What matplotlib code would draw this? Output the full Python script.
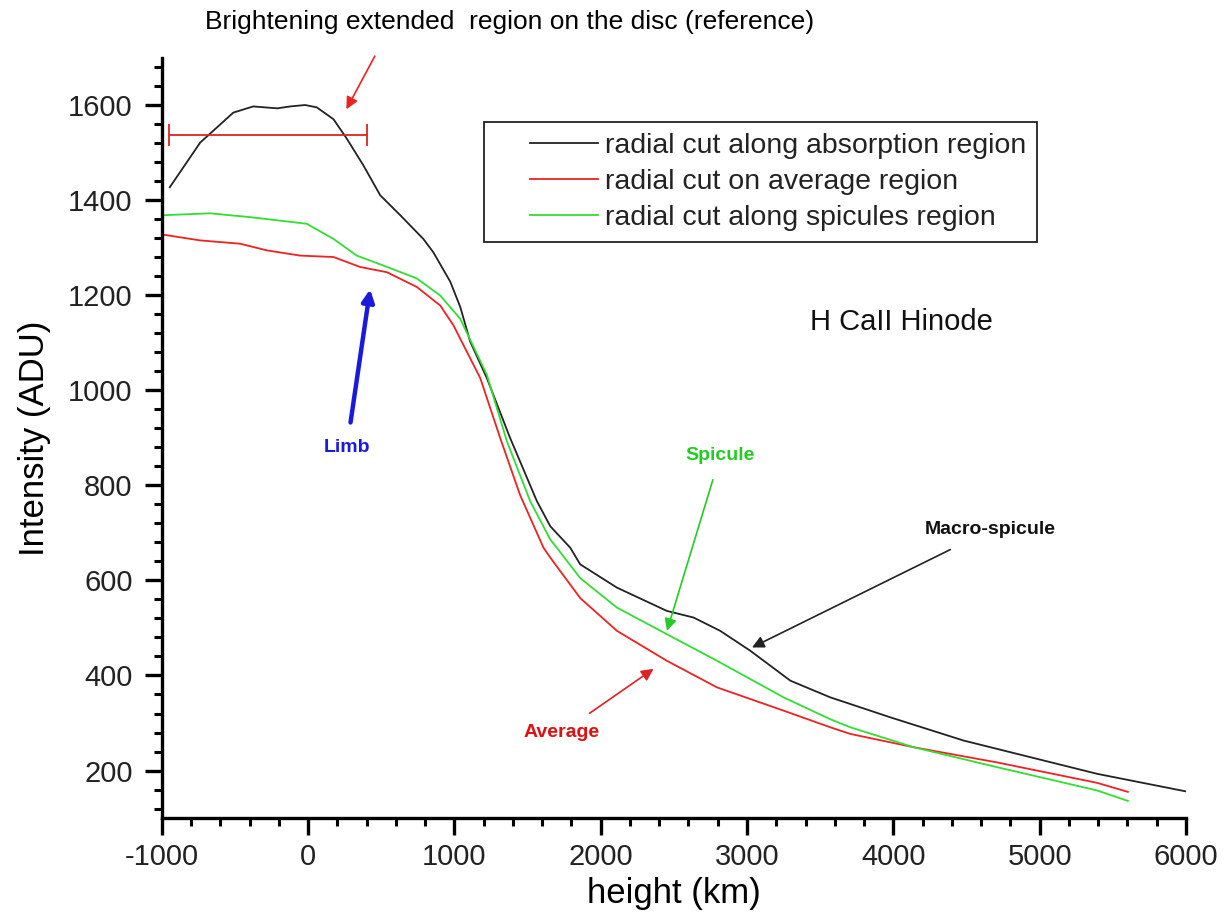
import matplotlib
matplotlib.use("Agg")
import matplotlib.pyplot as plt
from matplotlib.ticker import MultipleLocator
from matplotlib.legend_handler import HandlerLine2D

plt.rcParams['font.family'] = ['Liberation Sans', 'DejaVu Sans']
plt.rcParams['axes.unicode_minus'] = False

# ---- data ----
abs_x = [-945, -737, -511, -375, -211, -122, -20, 60, 174, 265, 378, 493, 630, 788, 856,
         972, 1040, 1108, 1222, 1381, 1564, 1656, 1792, 1860, 2111, 2452, 2635, 2817,
         3023, 3297, 3569, 3706, 3979, 4481, 4937, 5393, 6000]
abs_y = [1428, 1522, 1585, 1598, 1594, 1598, 1601, 1596, 1571, 1530, 1474, 1411, 1369, 1319, 1291,
         1229, 1176, 1103, 1026, 900, 767, 714, 669, 634, 585, 536, 522, 494,
         452, 389, 354, 340, 312, 263, 228, 193, 156]

avg_x = [-989, -738, -464, -282, -55, 174, 356, 539, 743, 903, 994, 1177, 1313, 1449,
         1609, 1656, 1860, 2111, 2452, 2795, 3250, 3569, 3706, 4139, 4709, 5393, 5603]
avg_y = [1328, 1316, 1309, 1295, 1284, 1281, 1260, 1249, 1218, 1179, 1137, 1026, 900, 780,
         669, 648, 563, 494, 431, 375, 326, 291, 277, 249, 217, 174, 155]

spi_x = [-989, -670, -397, -9, 174, 333, 515, 743, 903, 1040, 1222, 1359, 1518, 1656, 1700,
         1860, 2111, 2452, 2795, 3250, 3569, 3706, 4139, 4709, 5393, 5603]
spi_y = [1369, 1373, 1365, 1351, 1319, 1284, 1263, 1236, 1200, 1151, 1033, 893, 767, 686, 669,
         605, 543, 487, 431, 354, 308, 291, 249, 207, 158, 136]

labels = ['radial cut along absorption region',
          'radial cut on average region',
          'radial cut along spicules region']
colors = ['#222222', '#ee2222', '#33dd33']

ref_x = [-950, 406]
ref_y = 1538

xticks = [-1000, 0, 1000, 2000, 3000, 4000, 5000, 6000]
yticks = [200, 400, 600, 800, 1000, 1200, 1400, 1600]

# ---- figure ----
fig = plt.figure(figsize=(12.31, 9.19), dpi=100)
ax = fig.add_axes([0.1314, 0.1099, 0.8320, 0.8270])

ax.plot(abs_x, abs_y, color=colors[0], lw=1.3, label=labels[0])
ax.plot(avg_x, avg_y, color=colors[1], lw=1.3, label=labels[1])
ax.plot(spi_x, spi_y, color=colors[2], lw=1.3, label=labels[2])

# reference bracket
cx = (ref_x[0] + ref_x[1]) / 2
hw = (ref_x[1] - ref_x[0]) / 2
ax.errorbar([cx], [ref_y], xerr=[hw], color='#dd2222', lw=1.3, capsize=8, capthick=1.3, fmt='none')

ax.set_xlim(-1000, 6000)
ax.set_ylim(100, 1700)
ax.set_xticks(xticks)
ax.set_yticks(yticks)
ax.xaxis.set_minor_locator(MultipleLocator(200))
ax.yaxis.set_minor_locator(MultipleLocator(40))

for s in ['top', 'right']:
    ax.spines[s].set_visible(False)
for s in ['left', 'bottom']:
    ax.spines[s].set_linewidth(2.4)

ax.tick_params(which='major', direction='out', length=12, width=2.4, labelsize=21, labelcolor='#222222')
ax.tick_params(which='minor', direction='out', length=6, width=2.2)
ax.tick_params(axis='x', which='major', pad=6)
ax.tick_params(axis='y', which='major', pad=9)

ax.set_xlabel('height (km)', fontsize=25, labelpad=4)
ax.set_ylabel('Intensity (ADU)', fontsize=25, labelpad=12)

leg = ax.legend(loc='upper left', bbox_to_anchor=(0.315, 0.916), borderaxespad=0,
                fontsize=20.5, frameon=True, fancybox=False, edgecolor='#222222',
                handlelength=3.6, handletextpad=0.25, labelspacing=0.36,
                borderpad=0.38, framealpha=1,
                handler_map={matplotlib.lines.Line2D: HandlerLine2D(xpad=1.22)})
leg.get_frame().set_linewidth(1.3)
for t in leg.get_texts():
    t.set_color('#222222')

ax.text(3432, 1144, 'H CaII Hinode', fontsize=21, ha='left', va='center', color='#111111')

# annotations
fig.text(0.414, 0.976, 'Brightening extended  region on the disc (reference)',
         fontsize=19, ha='center', va='center',
         family=['Liberation Sans Narrow', 'Liberation Sans', 'DejaVu Sans'])
ax.annotate('', xy=(253, 1587), xytext=(465, 1709), annotation_clip=False,
            arrowprops=dict(arrowstyle='-|>', color='#ee2222', lw=1.2, mutation_scale=18))

ax.annotate('Limb', xy=(424, 1213), xytext=(265, 880), ha='center', va='center',
            fontsize=14, fontweight='bold', color='#1a1adc',
            arrowprops=dict(arrowstyle='-|>', color='#1a1adc', lw=3.2, mutation_scale=18,
                            shrinkA=10, shrinkB=0))
ax.annotate('Spicule', xy=(2453, 494), xytext=(2818, 864), ha='center', va='center',
            fontsize=14, fontweight='bold', color='#22cc22',
            arrowprops=dict(arrowstyle='-|>', color='#22cc22', lw=1.2, mutation_scale=18,
                            shrinkA=10, shrinkB=0))
ax.annotate('Macro-spicule', xy=(3034, 459), xytext=(4665, 707), ha='center', va='center',
            fontsize=14, fontweight='bold', color='#111111',
            arrowprops=dict(arrowstyle='-|>', color='#222222', lw=1.2, mutation_scale=18,
                            shrinkA=14, shrinkB=0))
ax.annotate('Average', xy=(2361, 414), xytext=(1735, 280), ha='center', va='center',
            fontsize=14, fontweight='bold', color='#dd1111',
            arrowprops=dict(arrowstyle='-|>', color='#dd2222', lw=1.2, mutation_scale=18,
                            shrinkA=10, shrinkB=0))

fig.savefig('out.png', dpi=100)
